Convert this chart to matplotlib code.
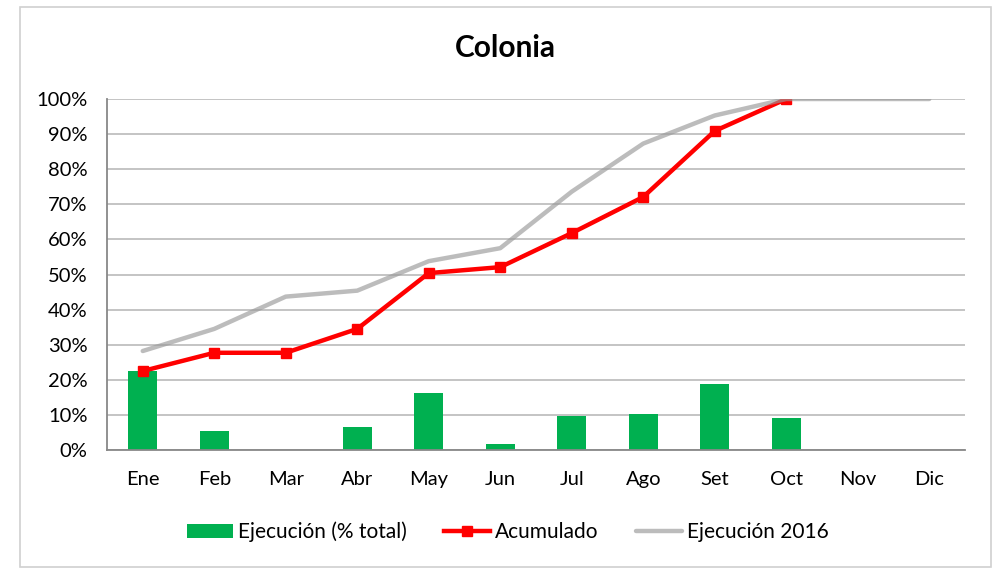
import matplotlib
matplotlib.use("Agg")
import matplotlib.pyplot as plt
from matplotlib.patches import Rectangle
from matplotlib.ticker import PercentFormatter

plt.rcParams['font.family'] = ['Lato', 'DejaVu Sans']

months = ["Ene", "Feb", "Mar", "Abr", "May", "Jun", "Jul", "Ago", "Set", "Oct", "Nov", "Dic"]
ejecucion = [22.5, 5.4, 0.0, 6.5, 16.2, 1.7, 9.8, 10.3, 18.8, 9.1, None, None]
acumulado = [22.5, 27.7, 27.7, 34.5, 50.4, 52.1, 61.8, 72.1, 90.9, 100.0]
ejec2016 = [28.2, 34.5, 43.7, 45.4, 53.8, 57.5, 73.6, 87.3, 95.3, 100.0, 100.0, 100.0]

fig = plt.figure(figsize=(9.93, 5.68), dpi=100)
fig.patches.append(Rectangle((20/993, 1 - 567/568), (991-20)/993, (567-7)/568,
                             transform=fig.transFigure, fill=False,
                             edgecolor='#d0d0d0', linewidth=1.2))
ax = fig.add_axes([107/993, (568-450)/568, (965-107)/993, (450-99)/568])

x = list(range(len(months)))
bx = [i for i, v in enumerate(ejecucion) if v is not None]
bv = [v for v in ejecucion if v is not None]
ax.bar(bx, bv, width=0.41, color='#00b050', zorder=2, label='Ejecución (% total)')
ax.plot(range(len(acumulado)), acumulado, color='#ff0000', lw=3.2, marker='s',
        markersize=7, zorder=3, label='Acumulado')
ax.plot(range(len(ejec2016)), ejec2016, color='#999999', alpha=0.65, lw=3.2,
        zorder=4, solid_capstyle='round', label='Ejecución 2016')

ax.set_xlim(-0.5, 11.5)
ax.set_ylim(0, 100)
ax.set_yticks(range(0, 101, 10))
ax.yaxis.set_major_formatter(PercentFormatter(decimals=0))
ax.set_xticks(x)
ax.set_xticklabels(months)
ax.grid(axis='y', color='#bfbfbf', lw=1.3, zorder=0)
ax.set_axisbelow(True)
for s in ['top', 'right']:
    ax.spines[s].set_visible(False)
for s in ['left', 'bottom']:
    ax.spines[s].set_color('#888888')
    ax.spines[s].set_linewidth(1.3)
ax.tick_params(axis='both', length=0, labelsize=14.5, colors='black')
ax.tick_params(axis='y', pad=14)
ax.tick_params(axis='x', pad=15)

fig.text(505/993, 1 - 48/568, "Colonia", ha='center', va='center', fontsize=21.5, fontweight='bold')

h, l = ax.get_legend_handles_labels()
lab_order = ['Ejecución (% total)', 'Acumulado', 'Ejecución 2016']
hh = [h[l.index(n)] for n in lab_order]
fig.legend(hh, lab_order, loc='center', bbox_to_anchor=(508/993, 1 - 532/568), ncol=3,
           frameon=False, fontsize=15, handlelength=2.2, handletextpad=0.25, columnspacing=1.8)

fig.savefig("out.png", dpi=100)
